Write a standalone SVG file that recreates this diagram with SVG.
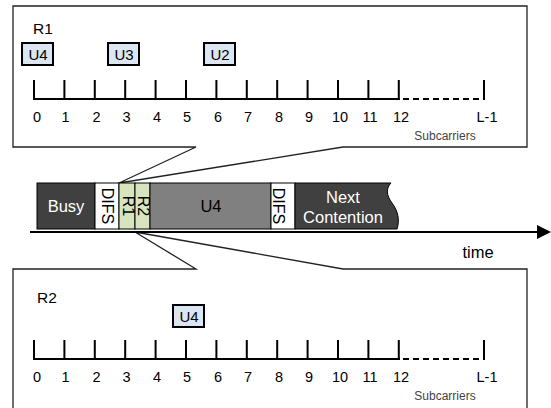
<svg xmlns="http://www.w3.org/2000/svg" width="551" height="408" viewBox="0 0 551 408">
<style>
text{font-family:"Liberation Sans",Arial,sans-serif;fill:#000}
.box{fill:#fff;stroke:#222;stroke-width:1.3}
.tick{stroke:#000;stroke-width:2;fill:none}
.dash{stroke:#000;stroke-width:2;stroke-dasharray:6,4;fill:none}
.num{font-size:14.5px;text-anchor:middle}
.sub{font-size:12px;fill:#444;text-anchor:middle}
.ub{fill:#dce6f2;stroke:#000;stroke-width:2}
.ut{font-size:15px;text-anchor:middle}
.lab{font-size:15.5px}
.cell{stroke:#000;stroke-width:1}
.rt{font-size:16px;text-anchor:middle}
.big{font-size:16.5px;text-anchor:middle}
.w{fill:#fff}
</style>
<g id="callout-r1">
<path class="box" d="M13,6 H527 V147 H343 L119,183 L196,147 H13 Z"/>
<text class="lab" x="33" y="33.5">R1</text>
<g id="r1-u4"><rect class="ub" x="22" y="43" width="31" height="22"/><text class="ut" x="38" y="59.5">U4</text></g>
<g id="r1-u3"><rect class="ub" x="108" y="43" width="31" height="22"/><text class="ut" x="124" y="59.5">U3</text></g>
<g id="r1-u2"><rect class="ub" x="204" y="43" width="31" height="22"/><text class="ut" x="220" y="59.5">U2</text></g>
<path class="tick" d="M34,80V99M64.4,80V99M94.8,80V99M125.2,80V99M155.6,80V99M186,80V99M216.4,80V99M246.8,80V99M277.2,80V99M307.6,80V99M338,80V99M368.4,80V99M398.8,80V99M33,99H400M484,80V100"/>
<path class="dash" d="M403,99H484"/>
<text class="num" x="37" y="122">0</text><text class="num" x="65.5" y="122">1</text><text class="num" x="96.5" y="122">2</text><text class="num" x="126.5" y="122">3</text><text class="num" x="157" y="122">4</text><text class="num" x="187" y="122">5</text><text class="num" x="218" y="122">6</text><text class="num" x="248" y="122">7</text><text class="num" x="279" y="122">8</text><text class="num" x="309" y="122">9</text><text class="num" x="340" y="122">10</text><text class="num" x="370" y="122">11</text><text class="num" x="401" y="122">12</text><text class="num" x="487" y="122">L-1</text>
<text class="sub" x="445" y="140">Subcarriers</text>
</g>
<g id="callout-r2">
<path class="box" d="M13,412 V269 H196 L135,232 L343,269 H527 V412"/>
<text class="lab" x="37" y="302.5">R2</text>
<g id="r2-u4"><rect class="ub" x="173" y="305" width="31" height="22"/><text class="ut" x="189" y="321.5">U4</text></g>
<path class="tick" d="M34,340V359M64.4,340V359M94.8,340V359M125.2,340V359M155.6,340V359M186,340V359M216.4,340V359M246.8,340V359M277.2,340V359M307.6,340V359M338,340V359M368.4,340V359M398.8,340V359M33,359H400M484,340V360"/>
<path class="dash" d="M403,359H484"/>
<text class="num" x="37" y="381.5">0</text><text class="num" x="65.5" y="381.5">1</text><text class="num" x="96.5" y="381.5">2</text><text class="num" x="126.5" y="381.5">3</text><text class="num" x="157" y="381.5">4</text><text class="num" x="187" y="381.5">5</text><text class="num" x="218" y="381.5">6</text><text class="num" x="248" y="381.5">7</text><text class="num" x="279" y="381.5">8</text><text class="num" x="309" y="381.5">9</text><text class="num" x="340" y="381.5">10</text><text class="num" x="370" y="381.5">11</text><text class="num" x="401" y="381.5">12</text><text class="num" x="487" y="381.5">L-1</text>
<text class="sub" x="445" y="400">Subcarriers</text>
</g>
<g id="timeline">
<g id="busy"><rect class="cell" x="37" y="183" width="58" height="46" fill="#404040"/><text class="big w" x="66" y="212">Busy</text></g>
<g id="difs1"><rect class="cell" x="95" y="183" width="24" height="46" fill="#fff"/><text class="rt" transform="translate(102,206) rotate(90)">DIFS</text></g>
<g id="r1"><rect class="cell" x="119" y="183" width="16" height="46" fill="#d7e4bd"/><text class="rt" font-size="15" transform="translate(122.5,206) rotate(90)">R1</text></g>
<g id="r2"><rect class="cell" x="135" y="183" width="15" height="46" fill="#d7e4bd"/><text class="rt" font-size="15" transform="translate(137.5,206) rotate(90)">R2</text></g>
<g id="u4"><rect class="cell" x="150" y="183" width="121" height="46" fill="#808080"/><text class="big" x="211" y="212">U4</text></g>
<g id="difs2"><rect class="cell" x="271" y="183" width="24" height="46" fill="#fff"/><text class="rt" transform="translate(273,206) rotate(90)">DIFS</text></g>
<g id="next"><path class="cell" d="M295,183 H391 C386,188 386,195 392,203 C398,211 400,220 397,229 H295 Z" fill="#404040"/><text class="big w" x="343" y="203">Next</text><text class="big w" x="343" y="223">Contention</text></g>
</g>
<g id="connectors">
<line x1="30" y1="232" x2="540" y2="232" stroke="#000" stroke-width="2"/>
<polygon points="537,225 551,232 537,239" fill="#000"/>
</g>
<text class="big" x="478" y="258">time</text>
</svg>
